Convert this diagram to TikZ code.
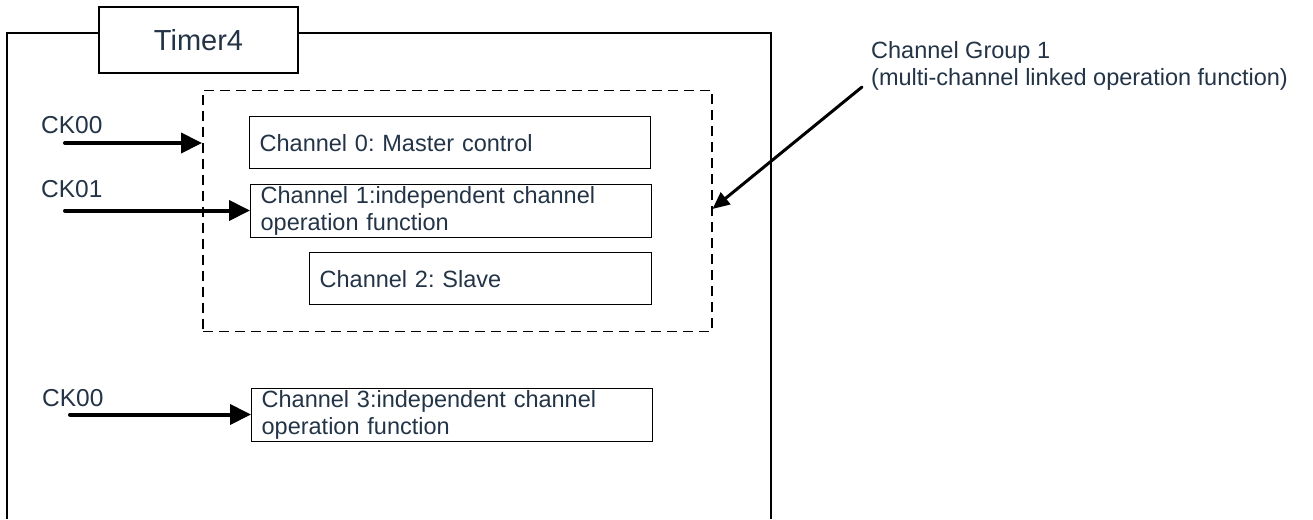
\documentclass[tikz,border=0pt]{standalone}
\usepackage{fontspec}
\setmainfont{Liberation Sans}
\usetikzlibrary{arrows.meta}
\frenchspacing
\definecolor{txt}{HTML}{233447}
\tikzset{
  lbl/.style={font=\fontsize{23.5}{27}\selectfont, text=txt, inner sep=0pt},
  cklbl/.style={font=\fontsize{24.5}{28}\selectfont, text=txt, inner sep=0pt, anchor=base west},
  chbox/.style={draw=black, line width=1.3pt, font=\fontsize{23.5}{27}\selectfont, text=txt,
     align=left, inner xsep=10pt, inner ysep=0pt, anchor=north west},
  bigarrow/.style={line width=4pt, line cap=round, -{Triangle[length=21pt,width=20pt]}},
  grparrow/.style={line width=3pt, line cap=round, -{Triangle[length=17pt,width=15pt]}},
}
\begin{document}
\begin{tikzpicture}[x=1pt,y=-1pt]
\useasboundingbox (0,0) rectangle (1313,519);
% outer frame
\draw[line width=1.3pt] (7,519) -- (7,33) -- (771,33) -- (771,519);
% Timer4 title box
\node[draw=black, line width=2pt, fill=white, minimum width=199pt, minimum height=66pt,
      font=\fontsize{29}{33}\selectfont, text=txt, inner sep=0pt] (timer) at (198.5,40) {Timer4};
% group dashed box
\node[draw=black, line width=1.5pt, dash pattern=on 10pt off 6pt, minimum width=509pt,
      minimum height=241pt, inner sep=0pt, anchor=north west] (grp) at (202,89.5) {};
% channel boxes
\node[chbox, minimum width=401pt, minimum height=52pt, text width=381pt] (ch0) at (249,116) {Channel 0: Master control};
\node[chbox, minimum width=401pt, minimum height=53pt, text width=381pt] (ch1) at (250,184) {Channel 1:independent channel\\operation function};
\node[chbox, minimum width=342pt, minimum height=52pt, text width=322pt] (ch2) at (309,252) {Channel 2: Slave};
\node[chbox, minimum width=401pt, minimum height=53pt, text width=381pt] (ch3) at (251,388) {Channel 3:independent channel\\operation function};
% clock labels
\node[cklbl] (ck0) at (41,133) {CK00};
\node[cklbl] (ck1) at (41,197) {CK01};
\node[cklbl] (ck3) at (42,406) {CK00};
% clock arrows
\coordinate (s0) at (65,143);
\coordinate (s1) at (65,210.5);
\coordinate (s3) at (70,414.5);
\draw[bigarrow] (s0) -- (grp.west |- s0);
\draw[bigarrow] (s1) -- (ch1.west |- s1);
\draw[bigarrow] (s3) -- (ch3.west |- s3);
% channel group label
\node[lbl, align=left, anchor=north west] (cg) at (871,41.5) {Channel Group 1\\(multi-channel linked operation function)};
\coordinate (cgs) at (862,87);
\coordinate (cgt) at (0,209);
\draw[grparrow] (cgs) -- (grp.east |- cgt);
\end{tikzpicture}
\end{document}
